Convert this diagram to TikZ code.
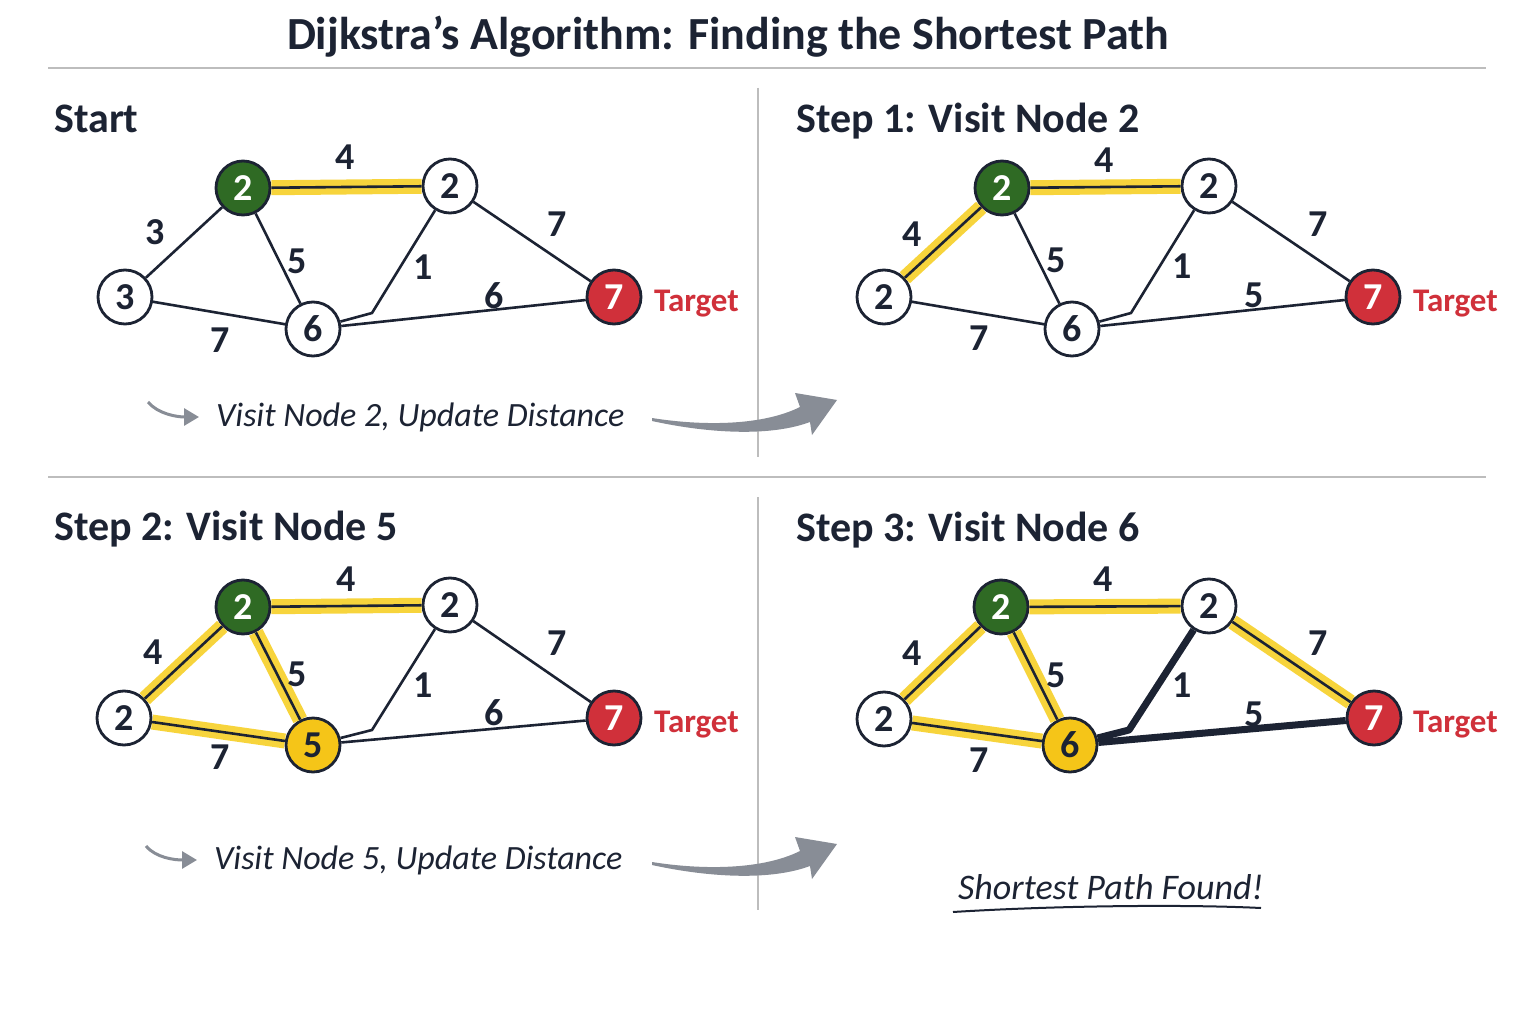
\documentclass[tikz,border=0pt]{standalone}
\usepackage{fontspec}
\setmainfont{Carlito}
\usetikzlibrary{arrows.meta}

\definecolor{ink}{HTML}{1C2333}
\definecolor{startgreen}{HTML}{2F6A24}
\definecolor{goalred}{HTML}{D0303A}
\definecolor{doneyellow}{HTML}{F5C518}
\definecolor{hlyellow}{HTML}{F7D43C}
\definecolor{arrowgray}{HTML}{888D96}
\definecolor{rulegray}{HTML}{BDBDBD}

\tikzset{
  vertex/.style={circle, draw=ink, line width=2.8pt, minimum size=54pt, inner sep=0pt,
    fill=white, text=ink, font=\fontsize{38}{38}\selectfont\bfseries},
  startv/.style={vertex, fill=startgreen, text=white},
  goalv/.style={vertex, fill=goalred, text=white},
  donev/.style={vertex, fill=doneyellow},
  edge/.style={ink, line width=2.6pt},
  glow/.style={hlyellow, line width=15pt},
  route/.style={ink, line width=7pt, line join=round},
  weight/.style={text=ink, font=\fontsize{38}{38}\selectfont\bfseries},
  goaltext/.style={anchor=base west, inner sep=0pt, text=goalred, font=\fontsize{33}{33}\selectfont\bfseries},
  heading/.style={anchor=base west, inner sep=0pt, text=ink, font=\fontsize{42}{42}\selectfont\bfseries},
  caption/.style={anchor=base west, inner sep=0pt, text=ink, font=\fontsize{34}{34}\selectfont\itshape},
  rule/.style={rulegray, line width=1.5pt},
  smallarrow/.style={arrowgray, line width=3pt, -{Triangle[length=15pt,width=17pt]}},
}
% tapered grey swoosh, drawn from its tail
\newcommand\swoosh{(0,-2) .. controls (50,6) and (110,6) .. (148,-13) -- (143,-27) -- (185,-20)
  -- (160,15) -- (158,2) .. controls (115,18) and (50,12) .. (0,1) -- cycle}

\begin{document}
\begin{tikzpicture}[x=1pt, y=-1pt]
    \fill[white] (0,0) rectangle (1536,1024);
    \useasboundingbox (0,0) rectangle (1536,1024);

    \node[text=ink, font=\fontsize{46}{46}\selectfont\bfseries] (title) at (728,37) {Dijkstra's Algorithm: Finding the Shortest Path};

    \draw[rule] (48,68) -- (1486,68);
    \draw[rule] (48,477) -- (1486,477);
    \draw[rule] (758,88) -- (758,457);
    \draw[rule] (758,497) -- (758,910);

    % Start
    \begin{scope}
        \node[heading] (h1) at (54,133) {Start};
        \node[startv] (a1) at (243,188) {2};
        \node[vertex] (b1) at (450,186) {2};
        \node[vertex] (c1) at (125,297) {3};
        \node[vertex] (d1) at (313,329) {6};
        \node[goalv] (e1) at (614,297) {7};
        \coordinate (k1) at (372,313);
        \node[goaltext] (t1) at (654,311) {Target};

        \draw[glow] (a1) -- (b1);
        \draw[edge] (a1) -- (b1);
        \draw[edge] (a1) -- (c1);
        \draw[edge] (a1) -- (d1);
        \draw[edge] (c1) -- (d1);
        \draw[edge] (d1) -- (k1) -- (b1);
        \draw[edge] (b1) -- (e1);
        \draw[edge] (d1) -- (e1);

        \node[weight] (w1ab) at (345,157) {4};
        \node[weight] (w1ac) at (155,232) {3};
        \node[weight] (w1ad) at (297,261) {5};
        \node[weight] (w1cd) at (220,340) {7};
        \node[weight] (w1kb) at (423,267) {1};
        \node[weight] (w1be) at (557,224) {7};
        \node[weight] (w1de) at (494,296) {6};

        \coordinate (s1) at (148,402);
        \coordinate (s2) at (199,417);
        \draw[smallarrow] (s1) .. controls +(10,12) and +(-22,0) .. (s2);
        \node[caption] (cap1) at (216,426) {Visit Node 2, Update Distance};
        \coordinate (f1) at (652,420);
        \coordinate (f2) at (837,400);
        \fill[arrowgray, shift={(f1)}] \swoosh;
    \end{scope}

    % Step 1
    \begin{scope}[shift={(759,0)}]
        \node[heading] (h2) at (37,133) {Step 1: Visit Node 2};
        \node[startv] (a2) at (243,188) {2};
        \node[vertex] (b2) at (450,186) {2};
        \node[vertex] (c2) at (125,297) {2};
        \node[vertex] (d2) at (313,329) {6};
        \node[goalv] (e2) at (614,297) {7};
        \coordinate (k2) at (372,313);
        \node[goaltext] (t2) at (654,311) {Target};

        \draw[glow] (a2) -- (b2);
        \draw[glow] (a2) -- (c2);
        \draw[edge] (a2) -- (b2);
        \draw[edge] (a2) -- (c2);
        \draw[edge] (a2) -- (d2);
        \draw[edge] (c2) -- (d2);
        \draw[edge] (d2) -- (k2) -- (b2);
        \draw[edge] (b2) -- (e2);
        \draw[edge] (d2) -- (e2);

        \node[weight] (w2ab) at (345,160) {4};
        \node[weight] (w2ac) at (153,234) {4};
        \node[weight] (w2ad) at (297,260) {5};
        \node[weight] (w2cd) at (220,338) {7};
        \node[weight] (w2kb) at (423,266) {1};
        \node[weight] (w2be) at (559,224) {7};
        \node[weight] (w2de) at (495,295) {5};
    \end{scope}

    % Step 2
    \begin{scope}[shift={(0,419)}]
        \node[heading] (h3) at (54,121) {Step 2: Visit Node 5};
        \node[startv] (a3) at (243,188) {2};
        \node[vertex] (b3) at (450,186) {2};
        \node[vertex] (c3) at (124,299) {2};
        \node[donev] (d3) at (313,326) {5};
        \node[goalv] (e3) at (614,299) {7};
        \coordinate (k3) at (372,311);
        \node[goaltext] (t3) at (654,313) {Target};

        \draw[glow] (a3) -- (b3);
        \draw[glow] (a3) -- (c3);
        \draw[glow] (a3) -- (d3);
        \draw[glow] (c3) -- (d3);
        \draw[edge] (a3) -- (b3);
        \draw[edge] (a3) -- (c3);
        \draw[edge] (a3) -- (d3);
        \draw[edge] (c3) -- (d3);
        \draw[edge] (d3) -- (k3) -- (b3);
        \draw[edge] (b3) -- (e3);
        \draw[edge] (d3) -- (e3);

        \node[weight] (w3ab) at (346,160) {4};
        \node[weight] (w3ac) at (153,233) {4};
        \node[weight] (w3ad) at (297,255) {5};
        \node[weight] (w3cd) at (220,338) {7};
        \node[weight] (w3kb) at (423,266) {1};
        \node[weight] (w3be) at (557,224) {7};
        \node[weight] (w3de) at (494,294) {6};

        \coordinate (s3) at (146,427);
        \coordinate (s4) at (197,441);
        \draw[smallarrow] (s3) .. controls +(10,12) and +(-22,0) .. (s4);
        \node[caption] (cap3) at (214,450) {Visit Node 5, Update Distance};
        \coordinate (f3) at (652,445);
        \coordinate (f4) at (837,425);
        \fill[arrowgray, shift={(f3)}] \swoosh;
    \end{scope}

    % Step 3
    \begin{scope}[shift={(759,419)}]
        \node[heading] (h4) at (37,122) {Step 3: Visit Node 6};
        \node[startv] (a4) at (242,188) {2};
        \node[vertex] (b4) at (450,187) {2};
        \node[vertex] (c4) at (125,300) {2};
        \node[donev] (d4) at (311,326) {6};
        \node[goalv] (e4) at (615,299) {7};
        \coordinate (k4) at (370,311);
        \node[goaltext] (t4) at (654,313) {Target};

        \draw[glow] (a4) -- (b4);
        \draw[glow] (a4) -- (c4);
        \draw[glow] (a4) -- (d4);
        \draw[glow] (c4) -- (d4);
        \draw[glow] (b4) -- (e4);
        \draw[edge] (a4) -- (b4);
        \draw[edge] (a4) -- (c4);
        \draw[edge] (a4) -- (d4);
        \draw[edge] (c4) -- (d4);
        \draw[edge] (b4) -- (e4);
        \draw[route] (d4) -- (k4) -- (b4);
        \draw[route] (d4) -- (e4);

        \node[weight] (w4ab) at (344,160) {4};
        \node[weight] (w4ac) at (153,234) {4};
        \node[weight] (w4ad) at (297,256) {5};
        \node[weight] (w4cd) at (220,341) {7};
        \node[weight] (w4kb) at (423,266) {1};
        \node[weight] (w4be) at (559,224) {7};
        \node[weight] (w4de) at (495,295) {5};

        \node[caption, font=\fontsize{36}{36}\selectfont\itshape] (cap4) at (199,480) {Shortest Path Found!};
        \coordinate (u1) at (194,493);
        \coordinate (u2) at (502,489);
        \draw[ink, line width=2pt] (u1) .. controls (290,487) and (420,485) .. (u2);
    \end{scope}
\end{tikzpicture}
\end{document}
